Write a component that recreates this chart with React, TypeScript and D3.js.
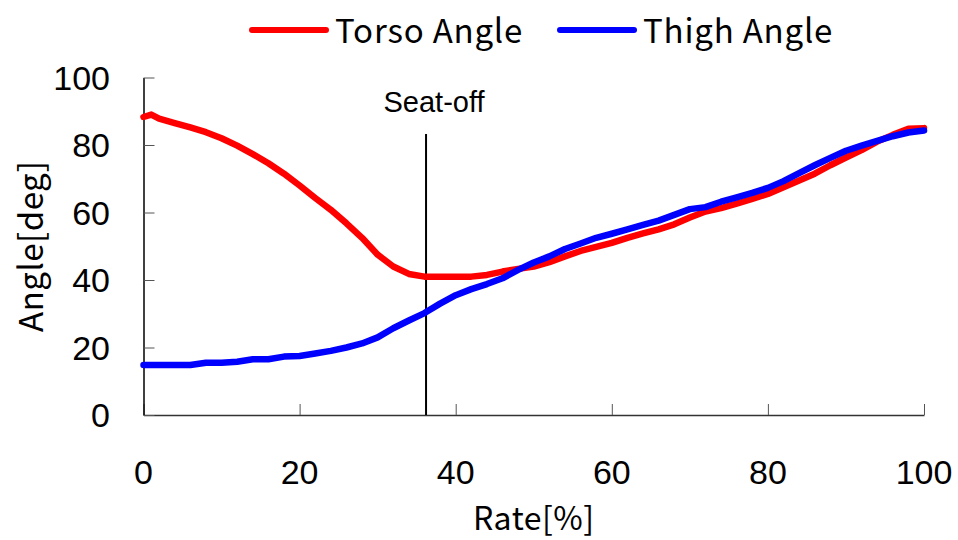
import React, { useEffect, useRef } from "react";
import * as d3 from "d3";

const rate = [
  0, 1, 2, 4, 6, 8, 10, 12, 14, 16, 18, 20, 22, 24, 26, 28, 30, 32, 34, 36, 38,
  40, 42, 44, 46, 48, 50, 52, 54, 56, 58, 60, 62, 64, 66, 68, 70, 72, 74, 76, 78,
  80, 82, 84, 86, 88, 90, 92, 94, 96, 98, 100,
];
const torso = [
  88.3, 89.0, 87.8, 86.5, 85.2, 83.8, 82.0, 79.8, 77.3, 74.6, 71.5, 68.0, 64.3,
  60.8, 56.8, 52.5, 47.5, 44.0, 41.8, 41.0, 41.0, 41.0, 41.0, 41.5, 42.5, 43.3,
  44.0, 45.3, 47.0, 48.6, 49.8, 51.0, 52.5, 53.8, 55.0, 56.5, 58.5, 60.3, 61.3,
  62.6, 64.0, 65.5, 67.5, 69.5, 71.5, 74.0, 76.3, 78.5, 81.0, 83.0, 84.8, 85.0,
];
const thigh = [
  14.8, 14.8, 14.8, 14.8, 14.8, 15.5, 15.5, 15.8, 16.5, 16.5, 17.3, 17.5, 18.2,
  19.0, 20.0, 21.2, 23.0, 25.7, 28.0, 30.2, 33.0, 35.5, 37.3, 38.8, 40.5, 43.0,
  45.2, 47.0, 49.2, 50.8, 52.5, 53.7, 55.0, 56.3, 57.6, 59.3, 61.0, 61.6, 63.2,
  64.5, 65.8, 67.3, 69.3, 71.7, 74.0, 76.2, 78.3, 79.8, 81.2, 82.6, 83.7, 84.3,
];
const xTicks = [0, 20, 40, 60, 80, 100];
const yTicks = [0, 20, 40, 60, 80, 100];
const seatOff = 36.2;
const seriesNames = ["Torso Angle", "Thigh Angle"];
const seriesColors = ["#ff0000", "#0000ff"];

const W = 958;
const H = 540;
const numFont = "'Liberation Sans', Arial, sans-serif";
const textFont = "'Noto Sans CJK JP', 'Noto Sans', sans-serif";

export default function App() {
  const svgRef = useRef<SVGSVGElement>(null);

  useEffect(() => {
    if (!svgRef.current) return;
    const svg = d3.select(svgRef.current);
    svg.selectAll("*").remove();

    const x = d3.scaleLinear().domain([0, 100]).range([143.5, 924]);
    const y = d3.scaleLinear().domain([0, 100]).range([415, 77.5]);

    // axes
    const xAxis = svg
      .append("g")
      .attr("transform", `translate(0,${y(0)})`)
      .call(d3.axisTop(x).tickValues(xTicks).tickSize(11).tickFormat(() => "").tickSizeOuter(0));
    xAxis.select(".domain").attr("stroke", "#333").attr("stroke-width", 1.5);
    xAxis.selectAll(".tick line").attr("stroke", "#555");

    const yAxis = svg
      .append("g")
      .attr("transform", `translate(${x(0)},0)`)
      .call(d3.axisRight(y).tickValues(yTicks).tickSize(11).tickFormat(() => "").tickSizeOuter(0));
    yAxis.select(".domain").attr("stroke", "#000").attr("stroke-width", 1.5);
    yAxis.selectAll(".tick line").attr("stroke", "#555");

    // tick labels
    svg
      .append("g")
      .selectAll("text")
      .data(xTicks)
      .join("text")
      .attr("x", (d) => x(d))
      .attr("y", 484)
      .attr("text-anchor", "middle")
      .style("font-family", numFont)
      .style("font-size", "34px")
      .text((d) => d);

    svg
      .append("g")
      .selectAll("text")
      .data(yTicks)
      .join("text")
      .attr("x", 110)
      .attr("y", (d) => y(d) + 12)
      .attr("text-anchor", "end")
      .style("font-family", numFont)
      .style("font-size", "34px")
      .text((d) => d);

    // axis titles
    svg
      .append("text")
      .attr("x", (x(0) + x(100)) / 2)
      .attr("y", 530)
      .attr("text-anchor", "middle")
      .style("font-family", textFont)
      .style("font-size", "32px")
      .style("letter-spacing", "0.5px")
      .text("Rate[%]");

    svg
      .append("text")
      .attr("transform", `translate(43,${(y(0) + y(100)) / 2}) rotate(-90)`)
      .attr("text-anchor", "middle")
      .style("font-family", textFont)
      .style("font-size", "33px")
      .style("letter-spacing", "0.5px")
      .text("Angle[deg]");

    // seat-off marker
    svg
      .append("line")
      .attr("x1", x(seatOff))
      .attr("x2", x(seatOff))
      .attr("y1", 134)
      .attr("y2", y(0))
      .attr("stroke", "#000")
      .attr("stroke-width", 2);
    svg
      .append("text")
      .attr("x", x(seatOff) + 8)
      .attr("y", 112)
      .attr("text-anchor", "middle")
      .style("font-family", numFont)
      .style("font-size", "29px")
      .text("Seat-off");

    // series
    const line = d3
      .line<number>()
      .x((_d, i) => x(rate[i]))
      .y((d) => y(d));

    [torso, thigh].forEach((vals, k) => {
      svg
        .append("path")
        .datum(vals)
        .attr("fill", "none")
        .attr("stroke", seriesColors[k])
        .attr("stroke-width", 6.5)
        .attr("stroke-linejoin", "round")
        .attr("stroke-linecap", "round")
        .attr("d", line);
    });

    // legend
    const legendX = [252, 560];
    seriesNames.forEach((name, k) => {
      svg
        .append("line")
        .attr("x1", legendX[k])
        .attr("x2", legendX[k] + 74)
        .attr("y1", 30)
        .attr("y2", 30)
        .attr("stroke", seriesColors[k])
        .attr("stroke-width", 6)
        .attr("stroke-linecap", "round");
      svg
        .append("text")
        .attr("x", legendX[k] + 83)
        .attr("y", 43)
        .style("font-family", textFont)
        .style("font-size", "33px")
        .style("letter-spacing", "0.8px")
        .text(name);
    });
  }, []);

  return (
    <>
      <style>{`body{margin:0}`}</style>
      <svg ref={svgRef} width={W} height={H} style={{ display: "block", background: "#fff" }} />
    </>
  );
}
